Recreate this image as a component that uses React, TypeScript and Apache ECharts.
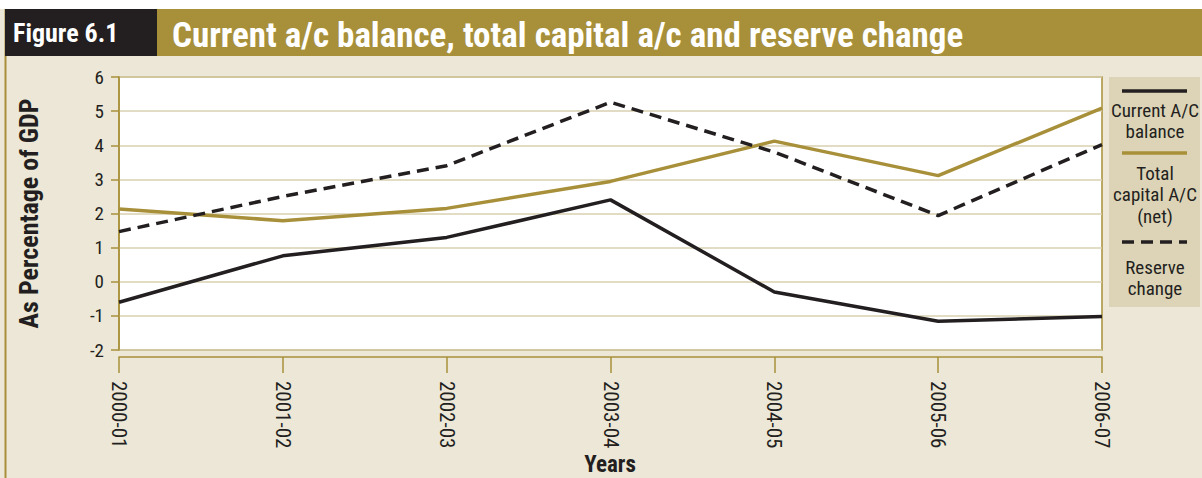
import React, { useEffect, useRef } from "react";
import * as echarts from "echarts";

const years = ["2000-01", "2001-02", "2002-03", "2003-04", "2004-05", "2005-06", "2006-07"];
const currentAC = [-0.6, 0.76, 1.3, 2.4, -0.3, -1.16, -1.02];
const totalCapital = [2.13, 1.79, 2.15, 2.94, 4.12, 3.11, 5.09];
const reserveChange = [1.47, 2.5, 3.4, 5.26, 3.8, 1.94, 4.02];
const seriesNames = ["Current A/C balance", "Total capital A/C (net)", "Reserve change"];
const legendLabels = [["Current A/C", "balance"], ["Total", "capital A/C", "(net)"], ["Reserve", "change"]];

const GOLD = "#a8903a";
const DARK = "#231f20";
const BEIGE = "#ece7d6";
const GRID = "#d9d0b2";
const COND = "'Liberation Sans Narrow', 'Roboto Condensed', 'Arial Narrow', Roboto, sans-serif";

export default function App() {
  const ref = useRef<HTMLDivElement>(null);
  useEffect(() => {
    const chart = echarts.init(ref.current!, null, { renderer: "svg" });
    chart.setOption({
      animation: false,
      backgroundColor: BEIGE,
      graphic: [
        { type: "rect", shape: { x: 0, y: 0, width: 1202, height: 9 }, style: { fill: "#ffffff" }, z: -1 },
        { type: "line", shape: { x1: 5.5, y1: 9, x2: 5.5, y2: 478 }, style: { stroke: GOLD, lineWidth: 2 } },
        { type: "rect", shape: { x: 5, y: 9, width: 152, height: 47 }, style: { fill: DARK } },
        { type: "rect", shape: { x: 157, y: 9, width: 1045, height: 47 }, style: { fill: GOLD } },
        {
          type: "text", x: 13, y: 33,
          style: { text: "Figure 6.1", fill: "#ffffff", font: `bold 26px ${COND}`, textVerticalAlign: "middle" },
        },
        {
          type: "text", x: 172, y: 35,
          style: { text: "Current a/c balance, total capital a/c and reserve change", fill: "#ffffff", font: `bold 35px ${COND}`, textVerticalAlign: "middle" },
        },
        {
          type: "text", x: 610, y: 464,
          style: { text: "Years", fill: DARK, font: `bold 23px ${COND}`, textAlign: "center", textVerticalAlign: "middle" },
        },
        // legend
        { type: "rect", shape: { x: 1109, y: 77, width: 91, height: 230 }, style: { fill: "#ddd4b7" } },
        { type: "line", shape: { x1: 1122, y1: 91, x2: 1187, y2: 91 }, style: { stroke: DARK, lineWidth: 3.5 } },
        { type: "line", shape: { x1: 1122, y1: 153, x2: 1187, y2: 153 }, style: { stroke: GOLD, lineWidth: 3.5 } },
        { type: "line", shape: { x1: 1122, y1: 242, x2: 1187, y2: 242 }, style: { stroke: DARK, lineWidth: 3.5, lineDash: [12, 7] } },
        ...[[legendLabels[0], 110], [legendLabels[1], 173], [legendLabels[2], 267]].flatMap(([lines, y0]: any) =>
          (lines as string[]).map((t, i) => ({
            type: "text", x: 1155, y: (y0 as number) + i * 21.5,
            style: { text: t, fill: DARK, font: `19px ${COND}`, textAlign: "center", textVerticalAlign: "middle" },
          }))
        ),
      ],
      grid: {
        left: 119, right: 100, top: 77, bottom: 128,
        outerBoundsMode: "none",
        containLabel: false,
        show: true, backgroundColor: "#ffffff", borderColor: GOLD, borderWidth: 1.5,
      },
      xAxis: {
        type: "category",
        data: years,
        boundaryGap: false,
        offset: 7,
        axisLine: { onZero: false, lineStyle: { color: GOLD, width: 1.5 } },
        axisTick: { length: 16, lineStyle: { color: GOLD, width: 1.5 } },
        axisLabel: { rotate: -90, margin: 24, color: DARK, fontSize: 21, fontFamily: COND },
        splitLine: { show: false },
      },
      yAxis: {
        type: "value",
        min: -2, max: 6, interval: 1,
        axisLine: { show: true, lineStyle: { color: GOLD, width: 1.5 } },
        axisTick: { show: true, length: 8, lineStyle: { color: GOLD, width: 1.5 } },
        axisLabel: { margin: 15, color: DARK, fontSize: 19, fontFamily: COND },
        splitLine: { lineStyle: { color: GRID, width: 1.5 } },
        name: "As Percentage of GDP",
        nameLocation: "middle",
        nameRotate: 90,
        nameGap: 77,
        nameTextStyle: { color: DARK, fontSize: 26, fontWeight: "bold", fontFamily: COND },
      },
      series: [
        { name: seriesNames[0], type: "line", data: currentAC, symbol: "none", lineStyle: { color: DARK, width: 3.5 }, z: 3 },
        { name: seriesNames[1], type: "line", data: totalCapital, symbol: "none", lineStyle: { color: GOLD, width: 3.5 }, z: 2 },
        { name: seriesNames[2], type: "line", data: reserveChange, symbol: "none", lineStyle: { color: DARK, width: 3.5, type: [12, 7] }, z: 4 },
      ],
    });
    return () => chart.dispose();
  }, []);
  return <div ref={ref} style={{ position: "fixed", left: 0, top: 0, width: 1202, height: 478 }} />;
}
